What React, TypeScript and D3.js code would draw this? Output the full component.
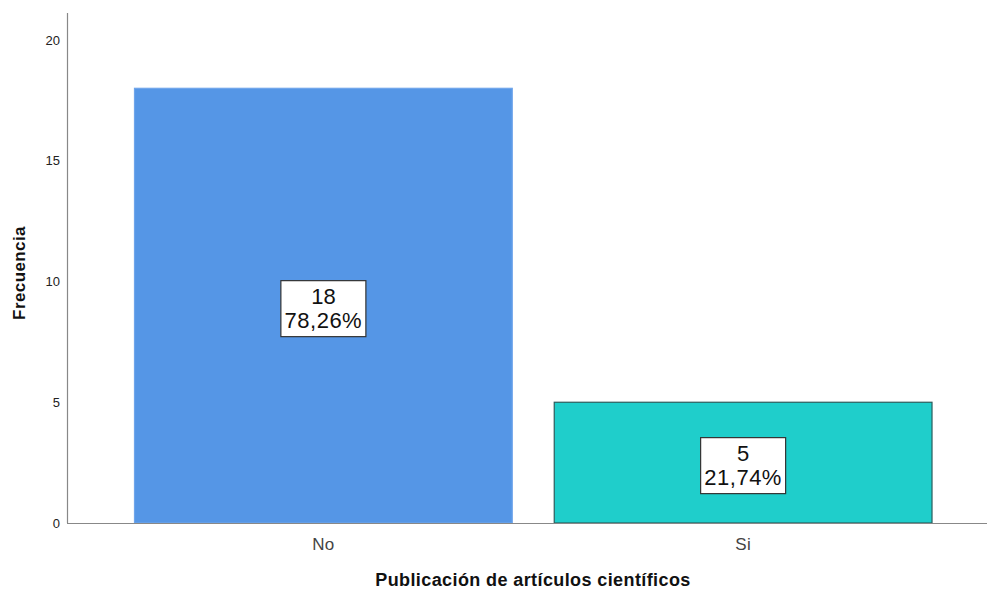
import { useEffect, useRef } from "react";
import * as d3 from "d3";

const categories = ["No", "Si"];
const counts = [18, 5];
const percents = ["78,26%", "21,74%"];
const yTicks = [0, 5, 10, 15, 20];
const barColors = ["#5596E6", "#1FCECB"];
const barStrokes = ["#6FA5EA", "#2C5C5C"];

const W = 987;
const H = 589;

const App = () => {
  const svgRef = useRef<SVGSVGElement | null>(null);

  useEffect(() => {
    if (!svgRef.current) return;
    const svg = d3.select(svgRef.current);
    svg.selectAll("*").remove();
    const font = "'Liberation Sans', Arial, sans-serif";

    const y = d3.scaleLinear().domain([0, 20]).range([523, 40]);
    const x = d3.scaleBand()
      .domain(categories)
      .range([113.5, 953])
      .paddingInner(0.1)
      .paddingOuter(0.05);

    // bars
    svg.selectAll(".bar")
      .data(counts)
      .enter().append("rect")
      .attr("x", (_, i) => x(categories[i]) ?? 0)
      .attr("y", d => y(d))
      .attr("width", x.bandwidth())
      .attr("height", d => y(0) - y(d))
      .attr("fill", (_, i) => barColors[i])
      .attr("stroke", (_, i) => barStrokes[i])
      .attr("stroke-width", 1.2);

    // axes lines
    svg.append("line")
      .attr("x1", 67.5).attr("x2", 67.5)
      .attr("y1", 13).attr("y2", y(0))
      .attr("stroke", "#888").attr("stroke-width", 1.2);
    svg.append("line")
      .attr("x1", 67).attr("x2", W)
      .attr("y1", y(0) + 0.5).attr("y2", y(0) + 0.5)
      .attr("stroke", "#888").attr("stroke-width", 1.2);

    // y tick labels
    svg.selectAll(".ytick")
      .data(yTicks)
      .enter().append("text")
      .attr("x", 60)
      .attr("y", d => y(d))
      .attr("dy", "0.35em")
      .attr("text-anchor", "end")
      .attr("font-family", font)
      .attr("font-size", 13)
      .attr("fill", "#222")
      .text(d => d);

    // x category labels
    svg.selectAll(".xtick")
      .data(categories)
      .enter().append("text")
      .attr("x", d => (x(d) ?? 0) + x.bandwidth() / 2)
      .attr("y", 550)
      .attr("text-anchor", "middle")
      .attr("font-family", font)
      .attr("font-size", 17)
      .attr("letter-spacing", 0.3)
      .attr("fill", "#444")
      .text(d => d);

    // value label boxes
    const boxW = 85;
    const boxH = 56;
    const labels = svg.selectAll(".lbl")
      .data(counts)
      .enter().append("g")
      .attr("transform", (d, i) => {
        const cx = (x(categories[i]) ?? 0) + x.bandwidth() / 2;
        const cy = (y(d) + y(0)) / 2 + 3;
        return `translate(${cx},${cy})`;
      });
    labels.append("rect")
      .attr("x", -boxW / 2).attr("y", -boxH / 2)
      .attr("width", boxW).attr("height", boxH)
      .attr("fill", "#fff")
      .attr("stroke", "#333").attr("stroke-width", 1.2);
    labels.append("text")
      .attr("y", -5)
      .attr("text-anchor", "middle")
      .attr("font-family", font)
      .attr("font-size", 22)
      .attr("fill", "#111")
      .text(d => d);
    labels.append("text")
      .attr("y", 19)
      .attr("text-anchor", "middle")
      .attr("font-family", font)
      .attr("font-size", 22)
      .attr("letter-spacing", 0.5)
      .attr("fill", "#111")
      .text((_, i) => percents[i]);

    // axis titles
    svg.append("text")
      .attr("x", 533)
      .attr("y", 586)
      .attr("text-anchor", "middle")
      .attr("font-family", font)
      .attr("font-size", 18)
      .attr("letter-spacing", 0.4)
      .attr("font-weight", "bold")
      .attr("fill", "#111")
      .text("Publicación de artículos científicos");

    svg.append("text")
      .attr("transform", "translate(25,273) rotate(-90)")
      .attr("text-anchor", "middle")
      .attr("font-family", font)
      .attr("font-size", 17)
      .attr("letter-spacing", 0.4)
      .attr("font-weight", "bold")
      .attr("fill", "#111")
      .text("Frecuencia");
  }, []);

  return (
    <svg
      ref={svgRef}
      width={W}
      height={H}
      style={{ position: "absolute", left: 0, top: 0, background: "#fff" }}
    />
  );
};

export default App;
